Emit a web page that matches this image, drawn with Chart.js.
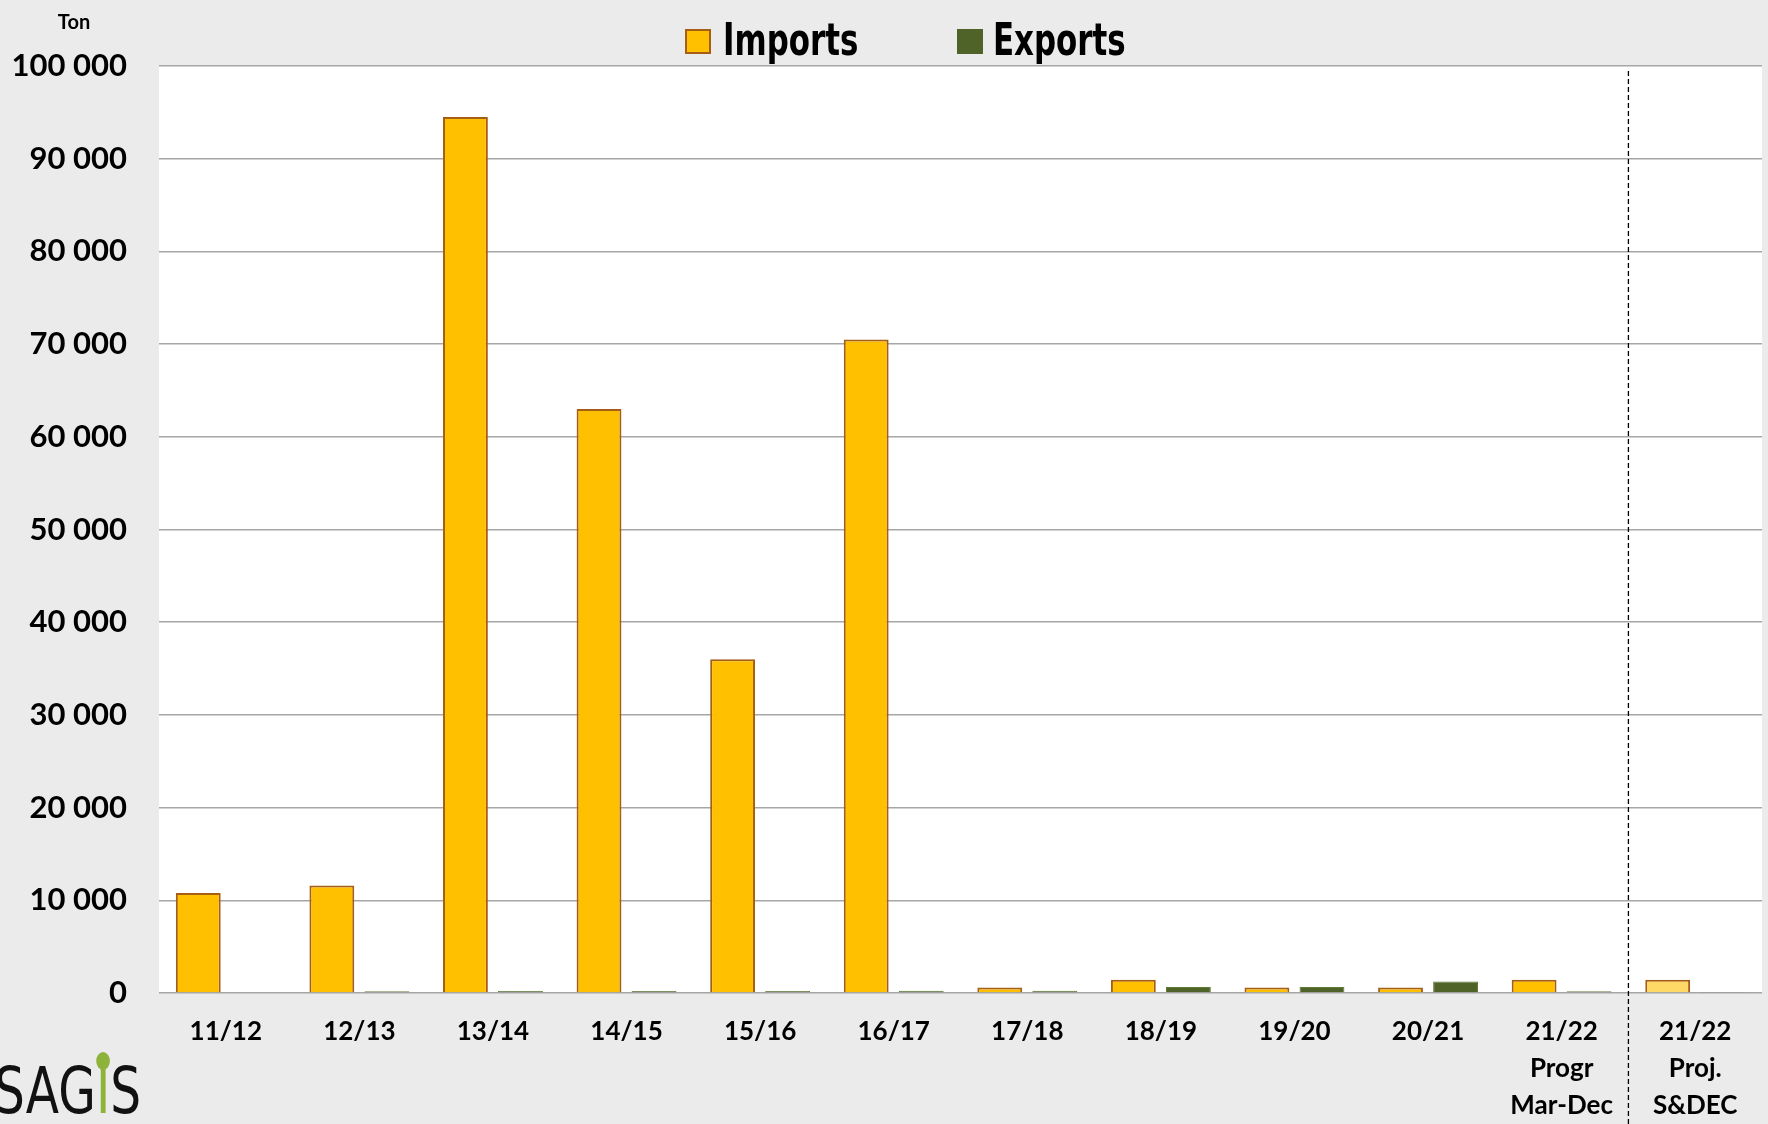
<!DOCTYPE html>
<html>
<head>
<meta charset="utf-8">
<script src="https://cdn.jsdelivr.net/npm/chart.js@4.4.0/dist/chart.umd.min.js"></script>
<style>
  html, body { margin: 0; padding: 0; background: #EBEBEB; }
  canvas { display: block; }
</style>
</head>
<body>
<canvas id="graph1" width="1768" height="1124"></canvas>
<script>
// marketing years on the x axis
const seasons = [
    '11/12', '12/13', '13/14', '14/15', '15/16', '16/17',
    '17/18', '18/19', '19/20', '20/21',
    ['21/22', 'Progr', 'Mar-Dec'],
    ['21/22', 'Proj.', 'S&DEC']
];

// tons
const imports = [10800, 11600, 94500, 63000, 36000, 70500, 600, 1430, 600, 600, 1430, 1430];
const exports = [0, 200, 220, 220, 220, 250, 250, 650, 650, 1250, 190, 120];

const yTicks = [0, 10000, 20000, 30000, 40000, 50000, 60000, 70000, 80000, 90000, 100000];

const projIndex = seasons.length - 1;

function formatTon(v) {
    return String(v).replace(/\B(?=(\d{3})+(?!\d))/g, ' ');
}

// grey page with a white plot area
const backgroundPlugin = {
    id: 'background',
    beforeDraw(chart) {
        const { ctx, chartArea } = chart;
        ctx.save();
        ctx.fillStyle = '#EBEBEB';
        ctx.fillRect(0, 0, chart.width, chart.height);
        ctx.fillStyle = '#FFFFFF';
        ctx.fillRect(chartArea.left, chartArea.top, chartArea.right - chartArea.left, chartArea.bottom - chartArea.top);
        ctx.restore();
    }
};

// dashed line before the projection column, legend, unit and logo
const extrasPlugin = {
    id: 'extras',
    afterDatasetsDraw(chart) {
        const { ctx, chartArea } = chart;
        const x = chart.scales.x;
        const sepX = (x.getPixelForValue(projIndex - 1) + x.getPixelForValue(projIndex)) / 2;
        ctx.save();
        ctx.strokeStyle = '#000000';
        ctx.lineWidth = 1.3;
        ctx.setLineDash([5, 3]);
        ctx.beginPath();
        ctx.moveTo(sepX, chartArea.top + 5);
        ctx.lineTo(sepX, chart.height);
        ctx.stroke();
        ctx.restore();
    },
    afterDraw(chart) {
        const { ctx } = chart;
        ctx.save();

        // unit
        ctx.fillStyle = '#000000';
        ctx.font = 'bold 20px Lato';
        ctx.textAlign = 'center';
        ctx.textBaseline = 'middle';
        ctx.fillText('Ton', 74, 23);

        // legend
        const items = [
            { text: chart.data.datasets[0].label, fill: '#FFC000', stroke: '#A65E16', box: 686, textX: 723 },
            { text: chart.data.datasets[1].label, fill: '#4F6228', stroke: '#4F6228', box: 958, textX: 993 }
        ];
        ctx.textAlign = 'left';
        items.forEach((it) => {
            ctx.fillStyle = it.fill;
            ctx.fillRect(it.box, 30, 24, 23);
            ctx.strokeStyle = it.stroke;
            ctx.lineWidth = 2;
            ctx.strokeRect(it.box, 30, 24, 23);
            ctx.save();
            ctx.translate(it.textX, 44);
            ctx.scale(0.78, 1);
            ctx.font = 'bold 44px "DejaVu Sans Condensed", "DejaVu Sans", sans-serif';
            ctx.fillStyle = '#000000';
            ctx.fillText(it.text, 0, 0);
            ctx.restore();
        });

        // SAGIS logo
        ctx.font = '64px "DejaVu Sans"';
        ctx.textBaseline = 'alphabetic';
        ctx.translate(-6, 1113);
        ctx.scale(0.76, 1);
        ctx.fillStyle = '#111111';
        ctx.fillText('SAG', 0, 0);
        let w = ctx.measureText('SAG').width;
        ctx.fillStyle = '#8DB33A';
        ctx.fillText('I', w, 0);
        const iw = ctx.measureText('I').width;
        ctx.beginPath();
        ctx.arc(w + iw / 2, -52, 9, 0, Math.PI * 2);
        ctx.fill();
        ctx.fillStyle = '#111111';
        ctx.fillText('S', w + iw, 0);

        ctx.restore();
    }
};

const data1 = {
    labels: seasons,
    datasets: [{
        label: 'Imports',
        data: imports,
        backgroundColor: (c) => c.dataIndex === projIndex ? '#FFD966' : '#FFC000',
        borderColor: '#A65E16',
        borderWidth: 2,
        categoryPercentage: 0.824,
        barPercentage: 0.815
    }, {
        label: 'Exports',
        data: exports,
        backgroundColor: '#4F6228',
        borderColor: '#5F7A35',
        borderWidth: 1,
        categoryPercentage: 0.824,
        barPercentage: 0.815
    }]
};

const config = {
    type: 'bar',
    data: data1,
    options: {
        responsive: false,
        animation: false,
        layout: {
            padding: { top: 66, left: 0, right: 6, bottom: 0 }
        },
        plugins: {
            legend: { display: false },
            tooltip: { enabled: false }
        },
        scales: {
            x: {
                grid: { display: false, drawTicks: false },
                border: { display: false },
                afterFit: (axis) => { axis.height = 131; },
                ticks: {
                    color: '#000000',
                    padding: 20,
                    maxRotation: 0,
                    autoSkip: false,
                    font: { family: 'Lato', weight: 'bold', size: 26, lineHeight: 1.42 }
                }
            },
            y: {
                min: 0,
                max: 100000,
                afterBuildTicks: (axis) => {
                    axis.ticks = yTicks.map((v) => ({ value: v }));
                },
                afterFit: (axis) => { axis.width = 159; },
                grid: { color: '#A6A6A6', lineWidth: 1.5, drawTicks: false },
                border: { display: false },
                ticks: {
                    color: '#000000',
                    padding: 32,
                    font: { family: 'Lato', weight: 'bold', size: 31 },
                    callback: (v) => formatTon(v)
                }
            }
        }
    },
    plugins: [backgroundPlugin, extrasPlugin]
};

const ctx = document.getElementById('graph1').getContext('2d');
new Chart(ctx, config);
</script>
</body>
</html>
